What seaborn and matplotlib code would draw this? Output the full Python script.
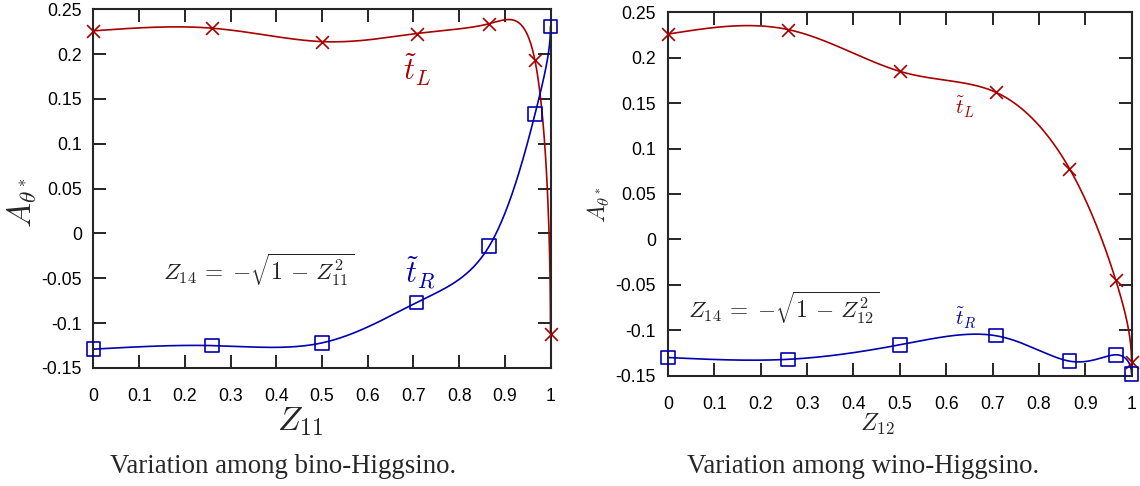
import numpy as np
import matplotlib
matplotlib.use("Agg")
import matplotlib.pyplot as plt
import seaborn as sns
from matplotlib.ticker import FuncFormatter, MultipleLocator

# data (Z = cos of the mixing angle: 90, 75, ..., 0 deg)
z_vals = [0.0, 0.259, 0.5, 0.707, 0.866, 0.966, 1.0]

bino_tL = [0.226, 0.229, 0.214, 0.223, 0.234, 0.193, -0.112]
bino_tR = [-0.129, -0.125, -0.122, -0.077, -0.014, 0.133, 0.231]

wino_tL = [0.226, 0.231, 0.185, 0.162, 0.078, -0.045, -0.135]
wino_tR = [-0.130, -0.132, -0.116, -0.106, -0.134, -0.127, -0.148]

x_ticks = [0, 0.1, 0.2, 0.3, 0.4, 0.5, 0.6, 0.7, 0.8, 0.9, 1]
captions = ["Variation among bino-Higgsino.", "Variation among wino-Higgsino."]

RED = "#a80000"
BLUE = "#0000b0"

sns.set_style("ticks")
plt.rcParams["font.family"] = ["Liberation Sans", "DejaVu Sans"]
plt.rcParams["mathtext.fontset"] = "cm"
plt.rcParams["axes.unicode_minus"] = False


def natural_spline(x, y, xs):
    x = np.asarray(x, float)
    y = np.asarray(y, float)
    n = len(x)
    h = np.diff(x)
    A = np.zeros((n, n))
    r = np.zeros(n)
    A[0, 0] = A[-1, -1] = 1
    for i in range(1, n - 1):
        A[i, i - 1] = h[i - 1]
        A[i, i] = 2 * (h[i - 1] + h[i])
        A[i, i + 1] = h[i]
        r[i] = 3 * ((y[i + 1] - y[i]) / h[i] - (y[i] - y[i - 1]) / h[i - 1])
    c = np.linalg.solve(A, r)
    b = (y[1:] - y[:-1]) / h - h * (2 * c[:-1] + c[1:]) / 3
    d = (c[1:] - c[:-1]) / (3 * h)
    idx = np.clip(np.searchsorted(x, xs) - 1, 0, n - 2)
    dx = xs - x[idx]
    return y[idx] + b[idx] * dx + c[idx] * dx ** 2 + d[idx] * dx ** 3


def smooth_curve(y):
    # spline in the mixing angle, drawn against Z = cos(angle)
    theta = np.arccos(np.clip(z_vals, -1, 1))[::-1]
    yy = np.asarray(y, float)[::-1]
    t = np.linspace(theta[0], theta[-1], 800)
    return np.cos(t), natural_spline(theta, yy, t)


def draw_series(ax, y, color, marker):
    xs, ys = smooth_curve(y)
    sns.lineplot(x=xs, y=ys, color=color, lw=1.2, ax=ax, sort=False)
    if marker == "s":
        sns.scatterplot(x=z_vals, y=y, marker="s", s=95, facecolor="none",
                        edgecolor=color, linewidth=1.2, ax=ax, clip_on=False, zorder=5)
    else:
        sns.scatterplot(x=z_vals, y=y, marker="x", s=85, color=color,
                        linewidth=1.2, ax=ax, clip_on=False, zorder=5)


def style_axes(ax, ypad, xpad):
    ax.set_xlim(0, 1)
    ax.set_ylim(-0.15, 0.25)
    ax.set_xticks(x_ticks)
    ax.yaxis.set_major_locator(MultipleLocator(0.05))
    fmt = FuncFormatter(lambda v, p: "%g" % round(v, 3))
    ax.xaxis.set_major_formatter(fmt)
    ax.yaxis.set_major_formatter(fmt)
    ax.tick_params(direction="in", top=True, right=True, length=9.5, width=1.2,
                   labelsize=12.7, colors="black")
    ax.tick_params(axis="x", pad=xpad)
    ax.tick_params(axis="y", pad=ypad)
    for s in ax.spines.values():
        s.set_linewidth(1.5)
        s.set_visible(True)


fig = plt.figure(figsize=(11.4, 4.86), dpi=100)
ax1 = fig.add_axes([0.0820, 0.2428, 0.4009, 0.738])
ax2 = fig.add_axes([0.5860, 0.2270, 0.4066, 0.7477])

# left panel: bino-Higgsino
draw_series(ax1, bino_tL, RED, "x")
draw_series(ax1, bino_tR, BLUE, "s")
style_axes(ax1, 8.4, 14.5)
ax1.set_xlabel(r"$Z_{11}$", fontsize=24, va="center")
ax1.xaxis.set_label_coords(0.453, -0.15)
ax1.set_ylabel(r"$A_{\theta^*}$", fontsize=24, va="center")
ax1.yaxis.set_label_coords(-0.155, 0.46)
ax1.text(0.709, 0.182, r"$\tilde{t}_L$", color=RED, fontsize=22, ha="center", va="center")
ax1.text(0.714, -0.044, r"$\tilde{t}_R$", color=BLUE, fontsize=22, ha="center", va="center")
ax1.text(0.152, -0.040, r"$Z_{14}\,=\;{-}\sqrt{1\,-\,Z_{11}^2}$", color="#222222",
         fontsize=16.8, ha="left", va="center")

# right panel: wino-Higgsino
draw_series(ax2, wino_tL, RED, "x")
draw_series(ax2, wino_tR, BLUE, "s")
style_axes(ax2, 8.7, 14.5)
ax2.set_xlabel(r"$Z_{12}$", fontsize=17.5, va="center")
ax2.xaxis.set_label_coords(0.452, -0.135)
ax2.set_ylabel(r"$A_{\theta^*}$", fontsize=17, va="center")
ax2.yaxis.set_label_coords(-0.148, 0.47)
ax2.text(0.64, 0.145, r"$\tilde{t}_L$", color=RED, fontsize=15, ha="center", va="center")
ax2.text(0.643, -0.087, r"$\tilde{t}_R$", color=BLUE, fontsize=15, ha="center", va="center")
ax2.text(0.043, -0.075, r"$Z_{14}\,=\;{-}\sqrt{1\,-\,Z_{12}^2}$", color="#222222",
         fontsize=16.8, ha="left", va="center")

fig.text(0.248, 0.040, captions[0], family="Liberation Serif", fontsize=19.3,
         ha="center", va="center")
fig.text(0.7575, 0.040, captions[1], family="Liberation Serif", fontsize=19.3,
         ha="center", va="center")

fig.savefig("out.png", dpi=100)
